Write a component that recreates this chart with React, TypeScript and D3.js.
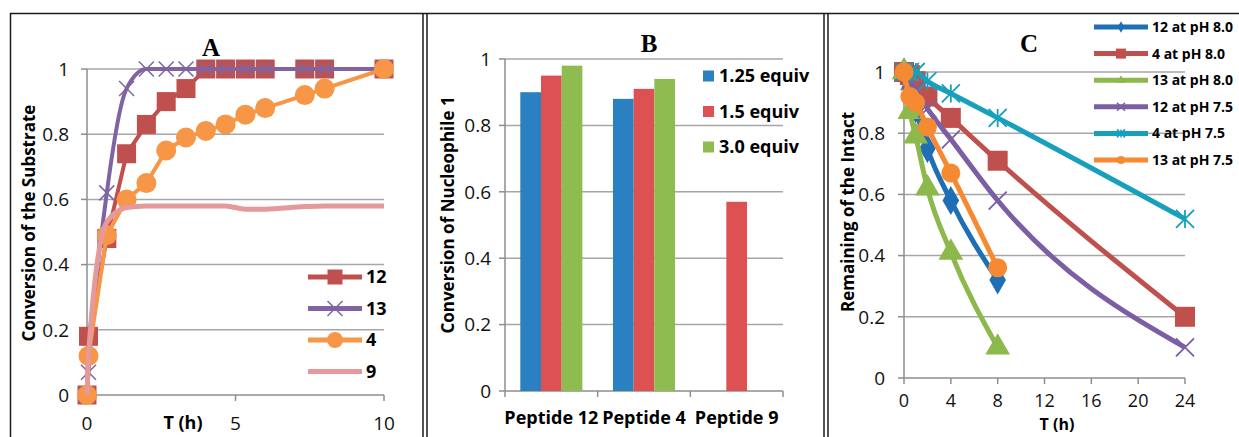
import * as d3 from "d3"
import React from "react"

// ---- panel A: conversion of the substrate over time
const hoursA = [0, 0.05, 0.667, 1.333, 2, 2.667, 3.333, 4, 4.667, 5.333, 6, 7.333, 8, 10]
const conv12 = [0, 0.18, 0.48, 0.74, 0.83, 0.9, 0.94, 1, 1, 1, 1, 1, 1, 1]
const conv13 = [0, 0.07, 0.62, 0.94, 1, 1, 1, 1, 1, 1, 1, 1, 1, 1]
const conv4 = [0, 0.12, 0.49, 0.6, 0.65, 0.75, 0.79, 0.81, 0.83, 0.86, 0.88, 0.92, 0.94, 1]
const conv9 = [0, 0.12, 0.53, 0.575, 0.58, 0.58, 0.58, 0.58, 0.58, 0.57, 0.57, 0.578, 0.58, 0.58]
const namesA = ["12", "13", "4", "9"]
const ticksAx = [0, 5, 10]

// ---- panel B: conversion of nucleophile 1
const peptides = ["Peptide 12", "Peptide 4", "Peptide 9"]
const equivs = ["1.25 equiv", "1.5 equiv", "3.0 equiv"]
const eq125 = [0.9, 0.88, null]
const eq150 = [0.95, 0.91, 0.57]
const eq300 = [0.98, 0.94, null]

// ---- panel C: remaining of the intact
const hoursC = [0, 0.5, 1, 2, 4, 8, 24]
const p12ph80 = [1, 0.95, 0.88, 0.75, 0.58, 0.32, null]
const p4ph80 = [1, 0.99, 0.97, 0.92, 0.85, 0.71, 0.2]
const p13ph80 = [1, 0.87, 0.79, 0.62, 0.41, 0.1, null]
const p12ph75 = [1, 0.97, 0.94, 0.88, 0.78, 0.58, 0.1]
const p4ph75 = [1, 1, 1, 0.97, 0.93, 0.85, 0.52]
const p13ph75 = [1, 0.92, 0.9, 0.82, 0.67, 0.36, null]
const namesC = ["12 at pH 8.0", "4 at pH 8.0", "13 at pH 8.0", "12 at pH 7.5", "4 at pH 7.5", "13 at pH 7.5"]
const ticksCx = [0, 4, 8, 12, 16, 20, 24]

const yTicks = [0, 0.2, 0.4, 0.6, 0.8, 1]
const GRID = "#a6a6a6"
const AXIS = "#8e8e8e"
const FONT = "'Open Sans', Lato, sans-serif"
const TICK = 19

function markerPath(type: string, s: number) {
  const r = s / 2
  if (type === "x") return `M${-r},${-r}L${r},${r}M${-r},${r}L${r},${-r}`
  if (type === "star") return `M${-r},${-r}L${r},${r}M${-r},${r}L${r},${-r}M0,${-r}L0,${r}`
  if (type === "square") return d3.symbol(d3.symbolSquare, s * s)()
  if (type === "circle") return d3.symbol(d3.symbolCircle, (Math.PI * s * s) / 4)()
  if (type === "diamond") return d3.symbol(d3.symbolDiamond, s * s * 0.6)()
  if (type === "triangle") return d3.symbol(d3.symbolTriangle, s * s * 0.5)()
  return ""
}

const isStroke = (t: string) => t === "x" || t === "star"

function Marker({ type, size, color, x, y, sw = 1.5 }) {
  const stroke = isStroke(type)
  return (
    <path
      d={markerPath(type, size)}
      transform={`translate(${x},${y})`}
      fill={stroke ? "none" : color}
      stroke={color}
      strokeWidth={stroke ? sw : 0}
    />
  )
}

function YGrid({ y, x0, x1, labelX }) {
  return (
    <g>
      {yTicks.map((t) => (
        <g key={t}>
          {t > 0 && <line x1={x0} x2={x1} y1={y(t)} y2={y(t)} stroke={GRID} strokeWidth={1.5} />}
          <line x1={x0 - 6} x2={x0} y1={y(t)} y2={y(t)} stroke={AXIS} strokeWidth={1.5} />
          <text x={labelX} y={y(t)} dy="0.36em" textAnchor="end" fontSize={TICK} fill="#111">
            {d3.format("~g")(t)}
          </text>
        </g>
      ))}
      <line x1={x0} x2={x0} y1={y(1)} y2={y(0)} stroke={AXIS} strokeWidth={1.5} />
      <line x1={x0} x2={x1} y1={y(0)} y2={y(0)} stroke={AXIS} strokeWidth={1.5} />
    </g>
  )
}

function PanelA() {
  const x = d3.scaleLinear().domain([0, 10]).range([87, 384])
  const y = d3.scaleLinear().domain([0, 1]).range([395, 69])
  const series = [
    { name: namesA[0], vals: conv12, color: "#c0504d", mk: "square", size: 19, w: 4, curve: d3.curveLinear },
    { name: namesA[1], vals: conv13, color: "#8064a2", mk: "x", size: 15, w: 4, curve: d3.curveMonotoneX },
    { name: namesA[2], vals: conv4, color: "#f79646", mk: "circle", size: 20, w: 4, curve: d3.curveLinear },
    { name: namesA[3], vals: conv9, color: "#e6999a", mk: null, size: 0, w: 5, curve: d3.curveMonotoneX },
  ]
  return (
    <g>
      <YGrid y={y} x0={87} x1={384} labelX={69} />
      {ticksAx.map((t) => (
        <g key={t}>
          <line x1={x(t)} x2={x(t)} y1={y(0)} y2={y(0) + 6} stroke={AXIS} strokeWidth={1.5} />
          <text x={x(t)} y={423} dy="0.36em" textAnchor="middle" fontSize={TICK} fill="#111">{t}</text>
        </g>
      ))}
      <text x={183} y={423} dy="0.36em" textAnchor="middle" fontSize={18} fontWeight="bold">T (h)</text>
      <text transform="translate(29,223) rotate(-90)" dy="0.36em" textAnchor="middle" fontSize={17} fontWeight="bold">
        Conversion of the Substrate
      </text>
      <text x={211} y={47} dy="0.36em" textAnchor="middle" fontSize={25} fontWeight="bold" fontFamily="'Liberation Serif', serif">A</text>
      {series.map((s) => {
        const line = d3.line<number>().x((d, i) => x(hoursA[i])).y((d) => y(d)).curve(s.curve)
        return (
          <g key={s.name}>
            <path d={line(s.vals)} fill="none" stroke={s.color} strokeWidth={s.w} />
            {s.mk && s.vals.map((v, i) => (
              <Marker key={i} type={s.mk} size={s.size} color={s.color} x={x(hoursA[i])} y={y(v)} />
            ))}
          </g>
        )
      })}
      {series.map((s, i) => {
        const ly = 277 + i * 31.5
        return (
          <g key={s.name}>
            <line x1={308} x2={362} y1={ly} y2={ly} stroke={s.color} strokeWidth={5} />
            {s.mk && <Marker type={s.mk} size={s.mk === "circle" ? 16 : 15} color={s.color} x={335} y={ly} />}
            <text x={366} y={ly} dy="0.36em" fontSize={18} fontWeight="bold">{s.name}</text>
          </g>
        )
      })}
    </g>
  )
}

function PanelB() {
  const x0 = d3.scaleBand().domain(peptides).range([505, 783])
  const x1 = d3.scaleBand().domain(equivs).range([0, x0.bandwidth()]).paddingOuter(0.74)
  const y = d3.scaleLinear().domain([0, 1]).range([391, 59])
  const colors = ["#2a80c0", "#dd5153", "#8fbc50"]
  const values = [eq125, eq150, eq300]
  return (
    <g>
      <YGrid y={y} x0={505} x1={783} labelX={491} />
      {peptides.map((p) => (
        <line key={p} x1={x0(p)} x2={x0(p)} y1={y(0)} y2={y(0) + 6} stroke={AXIS} strokeWidth={1.5} />
      ))}
      <line x1={783} x2={783} y1={y(0)} y2={y(0) + 6} stroke={AXIS} strokeWidth={1.5} />
      {equivs.map((e, si) =>
        peptides.map((p, ci) => {
          const v = values[si][ci]
          if (v == null) return null
          return (
            <rect key={e + p} x={x0(p) + x1(e)} y={y(v)} width={x1.bandwidth()} height={y(0) - y(v)} fill={colors[si]} />
          )
        })
      )}
      {peptides.map((p) => (
        <text key={p} x={x0(p) + x0.bandwidth() / 2} y={418} dy="0.36em" textAnchor="middle" fontSize={18} fontWeight="bold">{p}</text>
      ))}
      <text transform="translate(448,215) rotate(-90)" dy="0.36em" textAnchor="middle" fontSize={17} fontWeight="bold">
        Conversion of Nucleophile 1
      </text>
      <text x={649} y={43} dy="0.36em" textAnchor="middle" fontSize={25} fontWeight="bold" fontFamily="'Liberation Serif', serif">B</text>
      {equivs.map((e, i) => {
        const ly = 76 + i * 35.5
        return (
          <g key={e}>
            <rect x={703} y={ly - 5.5} width={11} height={11} fill={colors[i]} />
            <text x={719} y={ly} dy="0.36em" fontSize={18} fontWeight="bold">{e}</text>
          </g>
        )
      })}
    </g>
  )
}

function PanelC() {
  const x = d3.scaleLinear().domain([0, 24]).range([904, 1185])
  const y = d3.scaleLinear().domain([0, 1]).range([378, 72])
  const series = [
    { vals: p12ph80, color: "#1f6fb5", mk: "diamond", size: 20 },
    { vals: p4ph80, color: "#c0504d", mk: "square", size: 20 },
    { vals: p13ph80, color: "#8cb84c", mk: "triangle", size: 23 },
    { vals: p12ph75, color: "#7b5ea3", mk: "x", size: 18 },
    { vals: p4ph75, color: "#17a0bc", mk: "star", size: 18 },
    { vals: p13ph75, color: "#f58a33", mk: "circle", size: 19 },
  ]
  return (
    <g>
      <YGrid y={y} x0={904} x1={1185} labelX={885} />
      {ticksCx.map((t) => (
        <g key={t}>
          <line x1={x(t)} x2={x(t)} y1={y(0)} y2={y(0) + 6} stroke={AXIS} strokeWidth={1.5} />
          <text x={x(t)} y={401} dy="0.36em" textAnchor="middle" fontSize={18} fill="#111">{t}</text>
        </g>
      ))}
      <text x={1057} y={424} dy="0.36em" textAnchor="middle" fontSize={16} fontWeight="bold">T (h)</text>
      <text transform="translate(848,212) rotate(-90)" dy="0.36em" textAnchor="middle" fontSize={17} fontWeight="bold">
        Remaining of the Intact
      </text>
      <text x={1029} y={43} dy="0.36em" textAnchor="middle" fontSize={25} fontWeight="bold" fontFamily="'Liberation Serif', serif">C</text>
      {series.map((s, si) => {
        const pts = s.vals.map((v, i) => [hoursC[i], v]).filter((d) => d[1] != null)
        const line = d3.line<number[]>().x((d) => x(d[0])).y((d) => y(d[1])).curve(d3.curveMonotoneX)
        return (
          <g key={si}>
            <path d={line(pts)} fill="none" stroke={s.color} strokeWidth={5} />
            {pts.map((d, i) => (
              <Marker key={i} type={s.mk} size={s.size} color={s.color} x={x(d[0])} y={y(d[1])} sw={1.8} />
            ))}
          </g>
        )
      })}
      {series.map((s, i) => {
        const ly = 27 + i * 26.6
        return (
          <g key={i}>
            <line x1={1094} x2={1148} y1={ly} y2={ly} stroke={s.color} strokeWidth={5} />
            <Marker type={s.mk} size={s.mk === "square" ? 10 : 8} color={s.color} x={1121} y={ly} />
            <text x={1152} y={ly} dy="0.36em" fontSize={14} fontWeight="bold">{namesC[i]}</text>
          </g>
        )
      })}
    </g>
  )
}

export default function App() {
  return (
    <div style={{ position: "absolute", left: 0, top: 0 }}>
      <svg width={1239} height={437} style={{ display: "block", background: "#fff" }} fontFamily={FONT}>
        {/* panel frames */}
        <g stroke="#1a1a1a" strokeWidth={1.5}>
          <line x1={10} x2={1239} y1={13.5} y2={13.5} />
          <line x1={10.5} x2={10.5} y1={13} y2={437} />
          <line x1={423} x2={423} y1={13} y2={437} />
          <line x1={427} x2={427} y1={13} y2={437} />
          <line x1={824} x2={824} y1={13} y2={437} />
          <line x1={828} x2={828} y1={13} y2={437} />
        </g>
        <PanelA />
        <PanelB />
        <PanelC />
      </svg>
    </div>
  )
}
